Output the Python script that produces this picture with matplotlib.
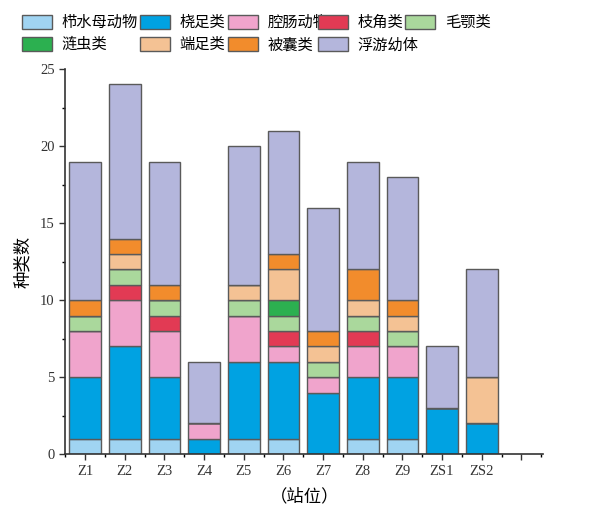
import numpy as np
import matplotlib.pyplot as plt
from matplotlib.patches import Patch
from matplotlib.ticker import MultipleLocator

plt.rcParams['font.family'] = ['Liberation Serif', 'Noto Sans CJK SC']

# 站位
stations = ['Z1', 'Z2', 'Z3', 'Z4', 'Z5', 'Z6', 'Z7', 'Z8', 'Z9', 'ZS1', 'ZS2']

# 各类群种类数 (从下往上堆叠)
groups = ['栉水母动物', '桡足类', '腔肠动物', '枝角类', '毛颚类',
          '涟虫类', '端足类', '被囊类', '浮游幼体']
ctenophora  = [1, 1, 1, 0, 1, 1, 0, 1, 1, 0, 0]
copepoda    = [4, 6, 4, 1, 5, 5, 4, 4, 4, 3, 2]
cnidaria    = [3, 3, 3, 1, 3, 1, 1, 2, 2, 0, 0]
cladocera   = [0, 1, 1, 0, 0, 1, 0, 1, 0, 0, 0]
chaetognath = [1, 1, 1, 0, 1, 1, 1, 1, 1, 0, 0]
cumacea     = [0, 0, 0, 0, 0, 1, 0, 0, 0, 0, 0]
amphipoda   = [0, 1, 0, 0, 1, 2, 1, 1, 1, 0, 3]
tunicata    = [1, 1, 1, 0, 0, 1, 1, 2, 1, 0, 0]
larvae      = [9, 10, 8, 4, 9, 8, 8, 7, 8, 4, 7]

series = [ctenophora, copepoda, cnidaria, cladocera, chaetognath,
          cumacea, amphipoda, tunicata, larvae]
colors = ['#a0d4f2', '#00a2e2', '#f0a4cc', '#e23a54', '#aad89c',
          '#2cb050', '#f4c294', '#f28c2c', '#b4b6dc']

fig = plt.figure(figsize=(5.93, 5.08), dpi=100)
ax = fig.add_axes([0.110, 0.106, 0.806, 0.758])

x = np.arange(1, len(stations) + 1)
bottom = np.zeros(len(stations))
for vals, c in zip(series, colors):
    vals = np.array(vals, dtype=float)
    ax.bar(x, vals, width=0.8, bottom=bottom, color=c,
           edgecolor='#5a5a5a', linewidth=1.0)
    bottom += vals

ax.set_xlim(0.5, 12.55)
ax.set_ylim(0, 25)
ax.set_xticks(list(x) + [12])
ax.set_xticklabels(stations + [''])
ax.xaxis.set_minor_locator(MultipleLocator(1, offset=0.5))
ax.yaxis.set_major_locator(MultipleLocator(5))
ax.yaxis.set_minor_locator(MultipleLocator(2.5))
ax.tick_params(axis='both', which='major', direction='out', length=4,
               width=1, labelsize=10.5, colors='#333333')
ax.tick_params(axis='both', which='minor', direction='out', length=2, width=1)
for s in ['top', 'right']:
    ax.spines[s].set_visible(False)
for s in ['left', 'bottom']:
    ax.spines[s].set_linewidth(1.2)
    ax.spines[s].set_color('#333333')

ax.set_ylabel('种类数', fontsize=12.5, family=['Noto Sans CJK SC'], labelpad=6)
ax.set_xlabel('（站位）', fontsize=12.5, family=['Noto Sans CJK SC'], labelpad=7)

# 图例: 两行五列, 按行排列, 每列单独放置
handles = [Patch(facecolor=c, edgecolor='#5a5a5a', label=g)
           for g, c in zip(groups, colors)]
col_x = [0.037, 0.236, 0.384, 0.536, 0.683]
for j, cx in enumerate(col_x):
    idx = [i for i in (j, j + 5) if i < len(groups)]
    fig.legend([handles[i] for i in idx], [groups[i] for i in idx],
               ncol=1, loc='upper left', bbox_to_anchor=(cx, 0.972),
               frameon=False,
               prop={'family': ['Noto Sans CJK SC'], 'size': 11},
               handlelength=1.95, handleheight=1.05, handletextpad=0.65,
               labelspacing=0.33, borderpad=0, borderaxespad=0)

fig.savefig('out.png', dpi=100)
